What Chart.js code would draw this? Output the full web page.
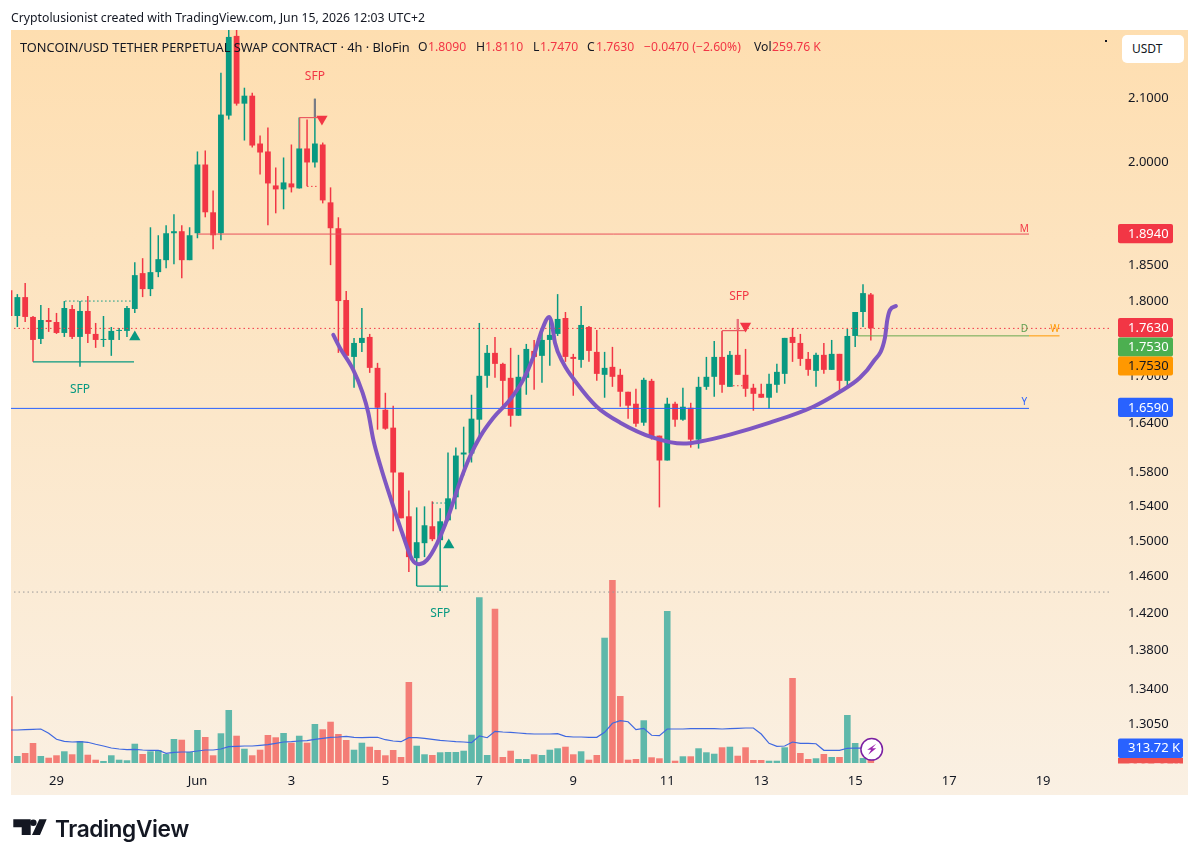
<!DOCTYPE html>
<html>
<head>
<meta charset="utf-8">
<title>TONCOIN/USD</title>
<script src="https://cdn.jsdelivr.net/npm/chart.js@4/dist/chart.umd.min.js"></script>
<style>
  html, body { margin: 0; padding: 0; background: #fff; }
  body { width: 1200px; height: 862px; position: relative; overflow: hidden; font-family: "Noto Sans", sans-serif; color: #131722; }
  canvas { position: absolute; left: 0; top: 0; }
  .t { position: absolute; white-space: nowrap; line-height: 16px; }
  .r { color: #f23645; }
  .l { top: 39px; font-size: 12.2px; }
  #usdt { position: absolute; left: 1122px; top: 35px; width: 62px; height: 28px; background: #fff; border-radius: 5px; font-size: 12px; line-height: 28px; text-indent: 10px; }
  #dot { position: absolute; left: 1105px; top: 40px; width: 2px; height: 2px; background: #131722; }
</style>
</head>
<body>
<canvas id="chart" width="1200" height="862"></canvas>

<div class="t" style="left:11px;top:10px;font-size:12.25px">Cryptolusionist created with TradingView.com, Jun 15, 2026 12:03 UTC+2</div>
<div class="t l" style="left:20px;font-size:12.8px">TONCOIN/USD TETHER PERPETUAL SWAP CONTRACT · 4h · BloFin</div>
<div class="t l" style="left:418px">O</div><div class="t r l" style="left:428px">1.8090</div>
<div class="t l" style="left:476px">H</div><div class="t r l" style="left:485px">1.8110</div>
<div class="t l" style="left:533px">L</div><div class="t r l" style="left:540px">1.7470</div>
<div class="t l" style="left:587px">C</div><div class="t r l" style="left:596px">1.7630</div>
<div class="t r l" style="left:644px">−0.0470 (−2.60%)</div>
<div class="t l" style="left:754px">Vol</div><div class="t r l" style="left:772px">259.76 K</div>
<div id="usdt">USDT</div>
<div id="dot"></div>

<svg style="position:absolute;left:0;top:810px" width="60" height="35">
  <path d="M13.3 9.3H30.7V25H21.7V17.3H13.3Z M39.3 9.3H46.7L40 25H32Z" fill="#131722"/>
  <circle cx="33.3" cy="12.7" r="3.3" fill="#131722"/>
</svg>
<div class="t" style="left:55px;top:817px;font-family:Inter;font-weight:600;font-size:22.7px;line-height:24px;letter-spacing:-0.4px">TradingView</div>

<script>
// 4h candles, one entry per bar
const opens = [1.8150,1.7797,1.8054,1.7784,1.7489,1.7743,1.7716,1.7569,1.7892,1.7516,1.7865,1.7556,1.7476,1.7476,1.7596,1.7596,1.7892,1.8386,1.8164,1.8400,1.8568,1.8952,1.8981,1.8568,1.8952,1.9968,1.9256,1.8952,2.0724,2.2018,2.0913,2.1040,2.0289,2.0167,1.9653,1.9594,1.9683,1.9609,2.0213,1.9999,2.0274,1.9402,1.9024,1.8014,1.7252,1.7436,1.7516,1.7109,1.6573,1.6349,1.5801,1.5284,1.4805,1.4975,1.5169,1.5009,1.5237,1.5506,1.6019,1.6031,1.6448,1.7006,1.7305,1.7161,1.6980,1.6498,1.6980,1.7331,1.7266,1.7476,1.7556,1.7770,1.7252,1.7213,1.7649,1.7318,1.7019,1.7122,1.7019,1.6801,1.6649,1.6411,1.6941,1.6250,1.5946,1.6649,1.6448,1.6598,1.6201,1.6864,1.6993,1.7252,1.6864,1.7279,1.7019,1.6852,1.6775,1.6725,1.6890,1.7031,1.7516,1.7436,1.7226,1.7070,1.7279,1.7083,1.7292,1.6941,1.7529,1.7851,1.8090];
const highs = [1.8358,1.8095,1.8247,1.7797,1.7946,1.7905,1.7838,1.8000,1.7946,1.8000,1.8068,1.7703,1.7797,1.7649,1.7636,1.7932,1.8540,1.8596,1.9038,1.8923,1.9067,1.9227,1.9067,1.9038,2.0167,2.0182,1.9579,2.1410,2.2150,2.2150,2.1168,2.1088,2.0412,2.0537,1.9923,2.0075,2.0274,2.0693,2.0662,2.0993,2.0304,1.9624,1.9183,1.8137,1.7503,1.7905,1.7556,1.7174,1.6788,1.6624,1.5801,1.5588,1.5388,1.5400,1.5459,1.5377,1.6043,1.6103,1.6361,1.6763,1.7703,1.7410,1.7516,1.7174,1.7371,1.7279,1.7423,1.7476,1.7583,1.7770,1.8095,1.7851,1.7292,1.7932,1.7663,1.7609,1.7318,1.7384,1.7096,1.6801,1.6839,1.6980,1.6967,1.6250,1.6725,1.6674,1.6852,1.6661,1.6993,1.7252,1.7463,1.7596,1.7331,1.7757,1.7357,1.6903,1.6903,1.7031,1.7161,1.7503,1.7636,1.7556,1.7318,1.7305,1.7436,1.7476,1.7292,1.7622,1.7851,1.8233,1.8110];
const lows = [1.7797,1.7649,1.7716,1.7187,1.7423,1.7583,1.7556,1.7516,1.7489,1.7122,1.7436,1.7371,1.7384,1.7266,1.7476,1.7516,1.7838,1.8054,1.8068,1.8330,1.8456,1.8512,1.8316,1.8568,1.8880,1.9183,1.8723,1.8851,2.0662,2.0882,2.0335,2.0228,1.9818,1.9067,1.9241,1.9300,1.9549,1.9609,1.9639,1.9923,1.9387,1.8498,1.7305,1.7213,1.6852,1.7318,1.7044,1.6324,1.6324,1.5111,1.5261,1.4650,1.4495,1.4817,1.4998,1.4440,1.5226,1.5365,1.5766,1.5922,1.6238,1.6852,1.6980,1.6611,1.6361,1.6498,1.6763,1.6826,1.6916,1.7135,1.7529,1.7187,1.6750,1.7109,1.7187,1.6941,1.6725,1.6864,1.6611,1.6461,1.6361,1.6374,1.6201,1.5388,1.5946,1.6361,1.6436,1.6103,1.6091,1.6826,1.6737,1.6788,1.6864,1.7019,1.6737,1.6560,1.6725,1.6586,1.6788,1.6903,1.7187,1.7135,1.7006,1.6864,1.7031,1.7083,1.6788,1.6864,1.7384,1.7649,1.7470];
const closes = [1.7797,1.8054,1.7784,1.7476,1.7743,1.7716,1.7569,1.7905,1.7516,1.7865,1.7556,1.7476,1.7489,1.7596,1.7609,1.7905,1.8358,1.8164,1.8400,1.8582,1.8952,1.8981,1.8568,1.8923,1.9968,1.9256,1.8923,2.0740,2.2001,2.0913,2.1040,2.0258,2.0151,1.9683,1.9594,1.9698,1.9624,2.0213,1.9999,2.0289,1.9431,1.9024,1.8000,1.7266,1.7436,1.7503,1.7109,1.6598,1.6336,1.5801,1.5261,1.4817,1.4986,1.5180,1.5020,1.5226,1.5494,1.6006,1.6043,1.6461,1.7006,1.7305,1.7161,1.6941,1.6498,1.6993,1.7357,1.7252,1.7476,1.7543,1.7757,1.7252,1.7226,1.7676,1.7331,1.7031,1.7109,1.6993,1.6801,1.6624,1.6398,1.6954,1.6225,1.5946,1.6649,1.6448,1.6611,1.6201,1.6864,1.6993,1.7252,1.6890,1.7279,1.7019,1.6839,1.6775,1.6725,1.6903,1.7057,1.7503,1.7436,1.7226,1.7083,1.7279,1.7083,1.7292,1.6941,1.7529,1.7851,1.8109,1.7630];

// volume and its moving average, in thousands
const volumes = [1400,147,210,420,147,111,162,246,183,462,174,69,42,162,69,57,405,189,246,273,189,504,489,231,693,546,162,624,1113,573,300,162,279,588,540,630,426,573,426,819,708,867,609,483,279,426,342,273,162,273,126,1701,363,183,168,225,231,231,258,594,3480,168,3240,126,258,84,84,183,168,279,309,342,183,246,69,168,2631,3843,1407,69,84,897,120,99,3192,48,141,141,309,225,195,330,342,153,330,63,63,48,48,330,1785,210,84,99,189,126,126,1008,420,105,259.76];
const volumeMa = [693,693,700,708,714,624,498,456,441,447,435,393,357,315,294,279,288,273,267,267,204,225,231,231,252,273,273,294,342,351,357,357,372,384,414,441,447,462,468,498,519,540,546,561,540,531,540,540,489,462,447,531,531,519,498,477,462,447,441,426,567,531,666,651,645,630,615,609,609,609,615,561,546,546,540,540,645,834,888,867,699,729,582,573,714,714,714,720,720,720,720,714,720,729,735,735,609,414,351,357,441,414,414,405,267,267,267,309,315,314,313.72];

// the hand drawn purple curve, bar position then price
const curveX = [41.35,42.2,43.9,45.1,45.82,46.46,47.32,48.8,50.3,51.4,52.3,53.3,54.56,56.04,57.5,58.8,60.1,61.8,63.9,65.6,66.9,68,68.94,69.25,69.67,70.7,72.4,75,78,82.2,86.05,88.2,92,97.1,102.65,106.05,108.6,110.3,111.8,112.1,112.45,113.2];
const curveY = [1.7543,1.7371,1.7083,1.6788,1.6535,1.6201,1.5898,1.5459,1.5054,1.4794,1.4738,1.4783,1.4964,1.5284,1.5683,1.5994,1.6238,1.6473,1.6699,1.6954,1.7252,1.7609,1.7784,1.7703,1.7436,1.7174,1.6916,1.6611,1.6411,1.6225,1.6152,1.6177,1.6263,1.6411,1.6611,1.6801,1.6980,1.7187,1.7503,1.7743,1.7878,1.7932];

const priceTicks = [2.1,2.0,1.85,1.8,1.7,1.64,1.58,1.54,1.5,1.46,1.42,1.38,1.34,1.305];
const dayTicks = [6,24,36,48,60,72,84,96,108,120,132];
const dayLabels = ["29","Jun","3","5","7","9","11","13","15","17","19"];

const levelM = 1.8940, levelD = 1.7530, levelY = 1.6590, lastPrice = 1.7630, lowLevel = 1.4429;
const levelsEnd = 130.2, weeklyEnd = 134.1;

// SFP drawings: [x1, y1, x2, y2]
const sfpRed = [[37.06,2.0213,37.06,2.0693],[37.06,2.0693,40.4,2.0693],[91,1.7252,91,1.7600],[91,1.7600,94.1,1.7600]];
const sfpGreen = [[3,1.7187,15.9,1.7187],[52,1.4495,56,1.4495]];
const sfpRedDots = [[38,1.9639,39.4,1.9639],[92.4,1.6878,94,1.6878]];
const sfpGreenDots = [[7.1,1.8000,15.6,1.8000],[54,1.5439,56,1.5439]];
const sfpThick = [[39,2.0993,39,2.0693,"#787b86"],[93,1.7757,93,1.7600,"#e8707a"]];
const triDown = [[39.9,2.0670],[94,1.7663]];
const triUp = [[16,1.7516],[56.1,1.4953]];
const sfpLabels = [[39,2.1350,"#f23645"],[93.2,1.8068,"#f23645"],[9,1.6826,"#089981"],[55,1.4190,"#089981"]];
const lineLabels = [["M",129.6,1.9009,"#f23645"],["D",129.6,1.7622,"#5e9e50"],["W",133.5,1.7622,"#ff9800"],["Y",129.6,1.6674,"#2962ff"]];
const priceTags = [["1.8940",233.6,"#f23645","#fff"],["1.7630",327.6,"#f23645","#fff"],["1.7530",347,"#4caf50","#fff"],["1.7530",366,"#ff9800","#131722"],["1.6590",407.4,"#2962ff","#fff"]];

const bars = opens.map((o, i) => i);
const isDown = i => closes[i] < opens[i];
const green = "#089981", red = "#f23645";

function segments(list, color, width, dash, order) {
  return list.map(s => ({
    type: 'line',
    data: [{x: s[0], y: s[1]}, {x: s[2], y: s[3]}],
    borderColor: s[4] || color,
    borderWidth: width,
    borderDash: dash,
    pointRadius: 0,
    yAxisID: 'y',
    order: order
  }));
}

const panel = {
  id: 'panel',
  beforeDraw(c) {
    const ctx = c.ctx;
    ctx.save();
    ctx.fillStyle = "#fff";
    ctx.fillRect(0, 0, 1200, 862);
    const g = ctx.createLinearGradient(0, 30, 0, 795);
    g.addColorStop(0, "#fedeb0");
    g.addColorStop(1, "#faf0e3");
    ctx.fillStyle = g;
    ctx.fillRect(11, 30, 1177, 765);
    ctx.restore();
  },
  afterDraw(c) {
    const ctx = c.ctx, xs = c.scales.x, ys = c.scales.y;
    ctx.save();
    ctx.textBaseline = "middle";
    ctx.textAlign = "center";

    ctx.font = '12px "Noto Sans"';
    sfpLabels.forEach(l => {
      ctx.fillStyle = l[2];
      ctx.fillText("SFP", xs.getPixelForValue(l[0]), ys.getPixelForValue(l[1]));
    });
    ctx.font = '10px "Noto Sans"';
    lineLabels.forEach(l => {
      ctx.fillStyle = l[3];
      ctx.fillText(l[0], xs.getPixelForValue(l[1]), ys.getPixelForValue(l[2]));
    });

    // price tags on the axis
    ctx.textAlign = "left";
    ctx.font = '13px "Noto Sans"';
    priceTags.forEach(t => {
      ctx.fillStyle = t[2];
      ctx.beginPath();
      ctx.roundRect(1118, t[1] - 9.6, 55, 19.2, 2);
      ctx.fill();
      ctx.fillStyle = t[3];
      ctx.fillText(t[0], 1128, t[1] + 0.5);
    });

    // volume tags, the lower one runs under the axis edge
    ctx.save();
    ctx.beginPath();
    ctx.rect(1112, 700, 76, 63.5);
    ctx.clip();
    ctx.fillStyle = "#ef5350";
    ctx.fillRect(1118, 758, 65, 20);
    ctx.fillStyle = "#fff";
    ctx.fillText("259.76 K", 1128, 768);
    ctx.restore();
    ctx.fillStyle = "#2962ff";
    ctx.beginPath();
    ctx.roundRect(1118, 738.5, 65, 19.5, 2);
    ctx.fill();
    ctx.fillStyle = "#fff";
    ctx.fillText("313.72 K", 1128, 748.5);

    // lightning button
    const bx = 871.7, by = 749.3;
    ctx.beginPath();
    ctx.arc(bx, by, 10.8, 0, Math.PI * 2);
    ctx.fillStyle = "#fff";
    ctx.fill();
    ctx.strokeStyle = "#7b1fa2";
    ctx.lineWidth = 1.5;
    ctx.stroke();
    ctx.fillStyle = "#9c27b0";
    ctx.beginPath();
    ctx.moveTo(bx + 4.5, by - 5.5);
    ctx.lineTo(bx - 4.5, by + 0.5);
    ctx.lineTo(bx - 0.5, by + 0.5);
    ctx.lineTo(bx - 3.5, by + 5.5);
    ctx.lineTo(bx + 4.5, by - 1);
    ctx.lineTo(bx + 0.5, by - 1);
    ctx.closePath();
    ctx.fill();
    ctx.restore();
  }
};

new Chart(document.getElementById('chart').getContext('2d'), {
  type: 'bar',
  plugins: [panel],
  data: {
    datasets: [
      {
        data: bars.map(i => ({x: i, y: volumes[i]})),
        backgroundColor: bars.map(i => isDown(i) ? "#f47d76" : "#5fb8aa"),
        yAxisID: 'yv', grouped: false, categoryPercentage: 1, barPercentage: 0.84, order: 9
      },
      {
        type: 'line',
        data: bars.map(i => ({x: i, y: volumeMa[i]})),
        borderColor: "#3f68e0", borderWidth: 1.2, pointRadius: 0, yAxisID: 'yv', order: 8
      },
      {
        data: bars.map(i => ({x: i, y: [lows[i], highs[i]]})),
        backgroundColor: bars.map(i => isDown(i) ? red : green),
        yAxisID: 'y', grouped: false, categoryPercentage: 1, barPercentage: 0.19, order: 6
      },
      {
        data: bars.map(i => ({x: i, y: [opens[i], closes[i]]})),
        backgroundColor: bars.map(i => isDown(i) ? red : green),
        yAxisID: 'y', grouped: false, categoryPercentage: 1, barPercentage: 0.74, order: 5
      },
      ...segments([[24, levelM, levelsEnd, levelM]], "#e8505b", 1, [], 4),
      ...segments([[0, levelY, levelsEnd, levelY]], "#2962ff", 1, [], 4),
      ...segments([[108.3, levelD, levelsEnd, levelD]], "#6aa84f", 1, [], 4),
      ...segments([[levelsEnd, levelD, weeklyEnd, levelD]], "#ff9800", 1, [], 4),
      ...segments([[0, lastPrice, 141, lastPrice]], "#f23645", 1, [1.5, 3], 4),
      ...segments([[0, lowLevel, 141, lowLevel]], "#9a9a9a", 1, [1.5, 3], 4),
      ...segments(sfpRed, "#ea5a62", 1.2, [], 3),
      ...segments(sfpGreen, green, 1.2, [], 3),
      ...segments(sfpRedDots, "#f23645", 1, [1.5, 2.5], 3),
      ...segments(sfpGreenDots, green, 1, [1.5, 2.5], 3),
      ...segments(sfpThick, "#787b86", 2.2, [], 3),
      {
        type: 'line',
        data: triDown.map(p => ({x: p[0], y: p[1]})),
        showLine: false, pointStyle: 'triangle', pointRotation: 180, pointRadius: 6.5,
        backgroundColor: red, borderWidth: 0, yAxisID: 'y', order: 2
      },
      {
        type: 'line',
        data: triUp.map(p => ({x: p[0], y: p[1]})),
        showLine: false, pointStyle: 'triangle', pointRadius: 6.5,
        backgroundColor: green, borderWidth: 0, yAxisID: 'y', order: 2
      },
      {
        type: 'line',
        data: curveX.map((x, i) => ({x: x, y: curveY[i]})),
        borderColor: "#7e57c2", borderWidth: 4, pointRadius: 0, cubicInterpolationMode: 'monotone',
        borderCapStyle: 'round', borderJoinStyle: 'round', yAxisID: 'y', order: 1
      }
    ]
  },
  options: {
    responsive: false,
    animation: false,
    events: [],
    layout: { padding: { left: 11, right: 12, top: 30, bottom: 67 } },
    plugins: { legend: { display: false }, tooltip: { enabled: false } },
    scales: {
      x: {
        type: 'linear', offset: false, min: 0.19, max: 140.8,
        grid: { display: false }, border: { display: false },
        afterBuildTicks(s) { s.ticks = dayTicks.map(v => ({value: v})); },
        afterFit(s) { s.height = 30; },
        ticks: {
          autoSkip: false, maxRotation: 0, padding: 0, color: "#131722",
          font: { family: "Noto Sans", size: 13 },
          callback: v => dayLabels[dayTicks.indexOf(v)]
        }
      },
      y: {
        type: 'logarithmic', position: 'right', min: 1.2652, max: 2.2117,
        grid: { display: false }, border: { display: false },
        afterBuildTicks(s) { s.ticks = priceTicks.map(v => ({value: v})); },
        afterFit(s) { s.width = 76; },
        ticks: {
          autoSkip: false, padding: 8, color: "#131722",
          font: { family: "Noto Sans", size: 13 },
          callback: v => v.toFixed(4)
        }
      },
      yv: { type: 'linear', display: false, min: -42, max: 15393 }
    }
  }
});
</script>
</body>
</html>
